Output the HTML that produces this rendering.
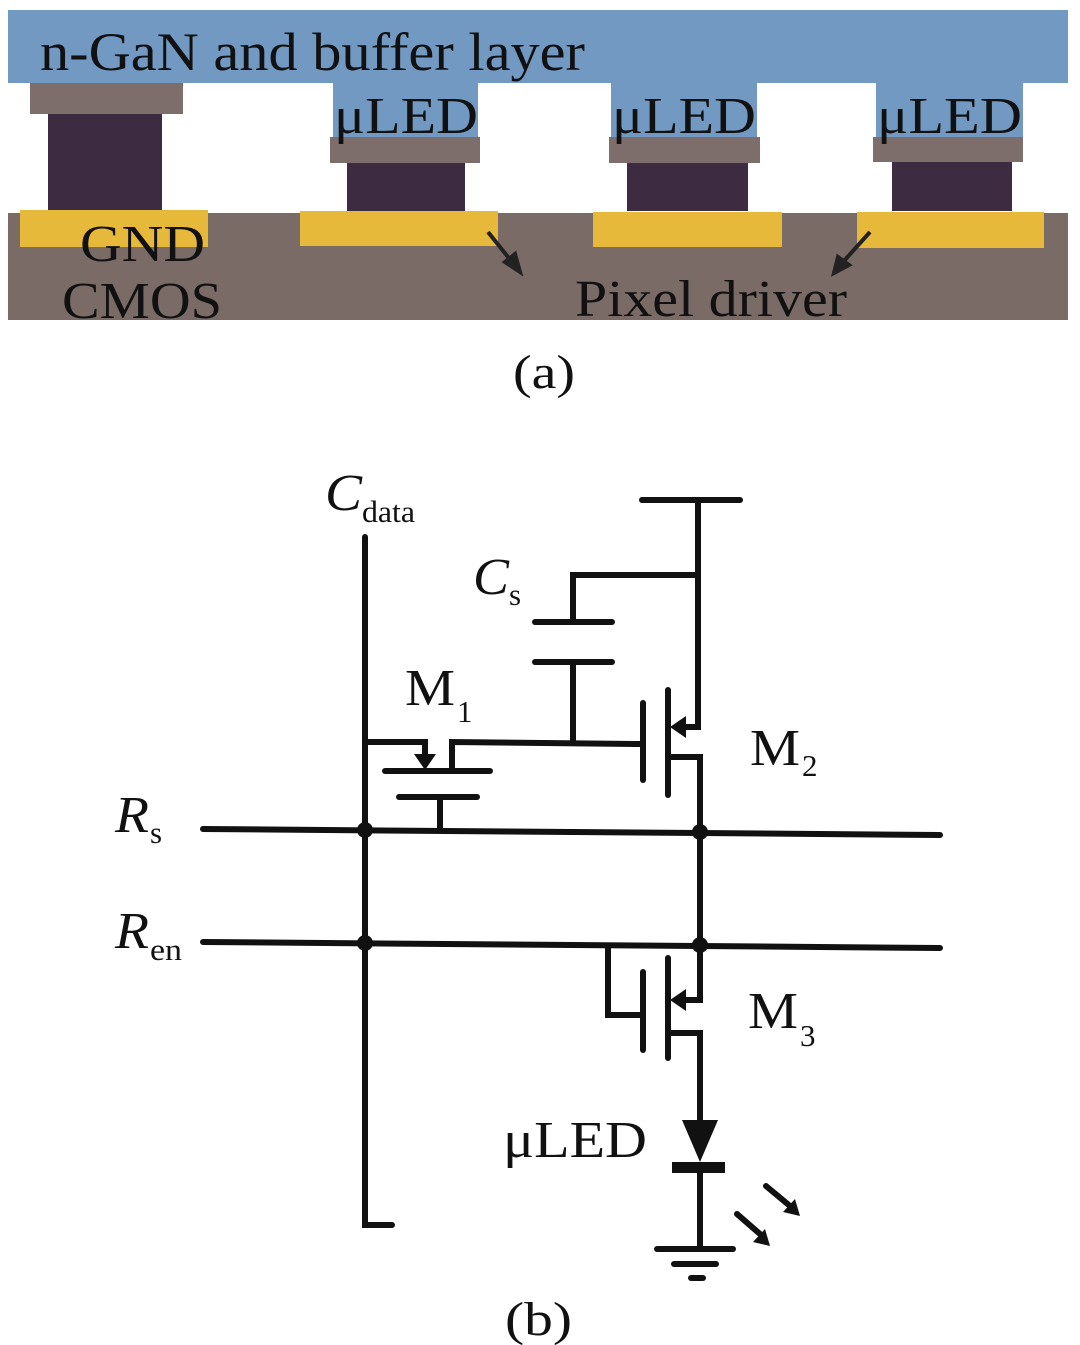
<!DOCTYPE html>
<html><head><meta charset="utf-8"><style>
html,body{margin:0;padding:0;background:#fff;}
svg{display:block;}
text{font-family:"Liberation Serif",serif;fill:#111;}
</style></head><body>
<svg width="1080" height="1345" viewBox="0 0 1080 1345" xmlns="http://www.w3.org/2000/svg">
<!-- (a) -->
<rect x="8" y="10" width="1060" height="73" fill="#7199c1"/>
<rect x="333" y="82" width="145" height="56" fill="#7199c1"/>
<rect x="611" y="82" width="146" height="56" fill="#7199c1"/>
<rect x="876" y="82" width="147" height="56" fill="#7199c1"/>
<rect x="8" y="213" width="1060" height="107" fill="#7b6b67"/>
<rect x="30" y="83" width="153" height="31" fill="#7d6e6c"/>
<rect x="48" y="114" width="114" height="96" fill="#3d2b41"/>
<rect x="330" y="137" width="150" height="26" fill="#7d6e6c"/>
<rect x="347" y="163" width="118" height="48" fill="#3d2b41"/>
<rect x="609" y="137" width="151" height="26" fill="#7d6e6c"/>
<rect x="627" y="163" width="121" height="48" fill="#3d2b41"/>
<rect x="873" y="137" width="150" height="25" fill="#7d6e6c"/>
<rect x="892" y="162" width="120" height="49" fill="#3d2b41"/>
<rect x="20" y="210" width="188" height="37" fill="#e7b93b"/>
<rect x="300" y="211" width="198" height="35" fill="#e7b93b"/>
<rect x="593" y="212" width="189" height="35" fill="#e7b93b"/>
<rect x="857" y="212" width="187" height="36" fill="#e7b93b"/>
<g stroke="#222" stroke-width="4" fill="#222">
<line x1="488" y1="232" x2="512" y2="262"/><polygon points="520,272 505,262 515,254"/>
<line x1="870" y1="232" x2="843" y2="262"/><polygon points="834,273 838,257 849,265"/>
</g>
<g lengthAdjust="spacingAndGlyphs">
<text x="40" y="70" font-size="54" textLength="545" lengthAdjust="spacingAndGlyphs">n-GaN and buffer layer</text>
<text x="334" y="133" font-size="52" textLength="144" lengthAdjust="spacingAndGlyphs">μLED</text>
<text x="612" y="133" font-size="52" textLength="144" lengthAdjust="spacingAndGlyphs">μLED</text>
<text x="877" y="133" font-size="52" textLength="145" lengthAdjust="spacingAndGlyphs">μLED</text>
<text x="80" y="261" font-size="52" textLength="125" lengthAdjust="spacingAndGlyphs">GND</text>
<text x="62" y="318" font-size="52" textLength="160" lengthAdjust="spacingAndGlyphs">CMOS</text>
<text x="575" y="316" font-size="52" textLength="272" lengthAdjust="spacingAndGlyphs">Pixel driver</text>
<text x="513" y="388" font-size="48" textLength="62" lengthAdjust="spacingAndGlyphs">(a)</text>
</g>
<!-- (b) circuit -->
<g stroke="#111" stroke-width="6" fill="none" stroke-linecap="round">
<polyline points="365,537 365,1225 392,1225"/>
<line x1="203" y1="829" x2="940" y2="835"/>
<line x1="203" y1="942" x2="940" y2="948"/>
<line x1="642" y1="500" x2="740" y2="500"/>
<polyline points="698,500 698,727 683,727"/>
<polyline points="698,575 573,575 573,620"/>
<line x1="535" y1="622" x2="612" y2="622"/>
<line x1="535" y1="662" x2="612" y2="662"/>
<line x1="573" y1="662" x2="573" y2="742"/>
<polyline points="452,771 452,742 640,744"/>
<line x1="643" y1="703" x2="643" y2="780"/>
<line x1="668" y1="690" x2="668" y2="795"/>
<polyline points="668,757 700,757 700,1000 685,1000"/>
<polyline points="365,742 425,742 425,758"/>
<line x1="385" y1="771" x2="490" y2="771"/>
<line x1="399" y1="797" x2="477" y2="797"/>
<line x1="440" y1="797" x2="440" y2="830"/>
<polyline points="608,948 608,1015 643,1015"/>
<line x1="643" y1="972" x2="643" y2="1050"/>
<line x1="668" y1="958" x2="668" y2="1058"/>
<polyline points="668,1033 700,1033 700,1125"/>
<line x1="700" y1="1168" x2="700" y2="1248"/>
<line x1="657" y1="1249" x2="733" y2="1249"/>
<line x1="674" y1="1264" x2="716" y2="1264"/>
<line x1="691" y1="1278" x2="703" y2="1278"/>
<line x1="766" y1="1186" x2="790" y2="1206"/>
<line x1="737" y1="1214" x2="760" y2="1234"/>
</g>
<g fill="#111">
<polygon points="670,727 686,716 686,738"/>
<polygon points="670,1000 686,989 686,1011"/>
<polygon points="425,770 414,754 436,754"/>
<polygon points="682,1120 718,1120 700,1162"/>
<rect x="672" y="1162" width="53" height="11"/>
<polygon points="800,1216 783,1212 795,1199"/>
<polygon points="770,1246 753,1242 765,1229"/>
<circle cx="365" cy="830" r="8"/><circle cx="700" cy="832" r="8"/>
<circle cx="365" cy="943" r="8"/><circle cx="700" cy="945" r="8"/>
</g>
<text x="325" y="510" font-size="52" font-style="italic" textLength="37" lengthAdjust="spacingAndGlyphs">C</text>
<text x="362" y="522" font-size="31" textLength="53" lengthAdjust="spacingAndGlyphs">data</text>
<text x="473" y="594" font-size="52" font-style="italic" textLength="36" lengthAdjust="spacingAndGlyphs">C</text>
<text x="509" y="605" font-size="31">s</text>
<text x="405" y="705" font-size="52" textLength="50" lengthAdjust="spacingAndGlyphs">M</text>
<text x="457" y="722" font-size="31">1</text>
<text x="750" y="765" font-size="52" textLength="50" lengthAdjust="spacingAndGlyphs">M</text>
<text x="802" y="776" font-size="31">2</text>
<text x="115" y="832" font-size="52" font-style="italic" textLength="34" lengthAdjust="spacingAndGlyphs">R</text>
<text x="150" y="843" font-size="31">s</text>
<text x="115" y="948" font-size="52" font-style="italic" textLength="34" lengthAdjust="spacingAndGlyphs">R</text>
<text x="150" y="960" font-size="31" textLength="32" lengthAdjust="spacingAndGlyphs">en</text>
<text x="748" y="1028" font-size="52" textLength="50" lengthAdjust="spacingAndGlyphs">M</text>
<text x="800" y="1046" font-size="31">3</text>
<text x="503" y="1157" font-size="52" textLength="144" lengthAdjust="spacingAndGlyphs">μLED</text>
<text x="505" y="1335" font-size="48" textLength="67" lengthAdjust="spacingAndGlyphs">(b)</text>
</svg>
</body></html>
